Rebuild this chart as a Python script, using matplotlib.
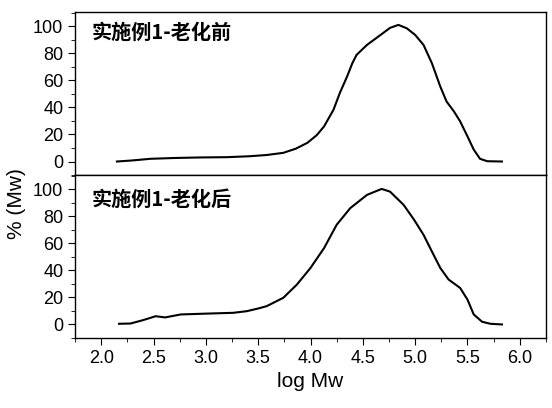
import matplotlib
matplotlib.use("Agg")
import matplotlib.pyplot as plt
from matplotlib.ticker import MultipleLocator

plt.rcParams['font.family'] = ['Liberation Sans', 'DejaVu Sans']

# before aging (top panel)
x_before = [2.15, 2.30, 2.47, 2.70, 2.95, 3.20, 3.42, 3.58, 3.74, 3.86, 3.97, 4.06, 4.13,
            4.22, 4.28, 4.35, 4.40, 4.44, 4.54, 4.67, 4.76, 4.84, 4.92, 5.00, 5.08,
            5.16, 5.24, 5.30, 5.37, 5.43, 5.50, 5.56, 5.62, 5.69, 5.83]
y_before = [0.0, 0.8, 2.0, 2.6, 3.0, 3.2, 3.9, 4.8, 6.4, 9.5, 13.8, 19.5, 26.0,
            38.3, 50.6, 62.9, 72.7, 78.8, 86.2, 93.6, 98.8, 101.0, 98.5, 93.6, 86.2,
            72.7, 55.5, 44.4, 37.1, 29.7, 18.6, 8.8, 2.0, 0.2, 0.0]

# after aging (bottom panel)
x_after = [2.17, 2.28, 2.40, 2.52, 2.61, 2.76, 3.04, 3.26, 3.39, 3.50, 3.58, 3.74, 3.87,
           4.00, 4.13, 4.25, 4.38, 4.54, 4.68, 4.76, 4.89, 4.99, 5.08, 5.16, 5.24,
           5.32, 5.43, 5.50, 5.56, 5.64, 5.72, 5.83]
y_after = [0.5, 0.7, 3.2, 6.1, 5.2, 7.4, 8.1, 8.6, 9.8, 11.8, 13.5, 19.7, 29.5,
           41.8, 56.5, 73.7, 86.0, 95.8, 100.2, 98.2, 88.4, 77.4, 66.3, 54.0, 41.8,
           33.2, 27.0, 18.4, 7.4, 2.0, 0.5, 0.0]

labels = ['实施例1-老化前', '实施例1-老化后']
xticks = [2.0, 2.5, 3.0, 3.5, 4.0, 4.5, 5.0, 5.5, 6.0]
yticks = [0, 20, 40, 60, 80, 100]

fig = plt.figure(figsize=(5.52, 4.08), dpi=100)
ax1 = fig.add_axes([0.136, 0.571, 0.853, 0.3995])
ax2 = fig.add_axes([0.136, 0.1716, 0.853, 0.3995])

cjk = ['Noto Sans CJK SC', 'DejaVu Sans']
for ax, xs, ys, lab, ty in [(ax1, x_before, y_before, labels[0], 0.877),
                            (ax2, x_after, y_after, labels[1], 0.853)]:
    ax.plot(xs, ys, color='black', lw=1.5, solid_joinstyle='round')
    ax.set_xlim(1.75, 6.25)
    ax.set_ylim(-10, 110.5)
    ax.set_yticks(yticks)
    ax.yaxis.set_minor_locator(MultipleLocator(10))
    ax.xaxis.set_minor_locator(MultipleLocator(0.25))
    ax.tick_params(axis='y', which='major', direction='out', length=5, labelsize=13)
    ax.tick_params(axis='y', which='minor', direction='out', length=3)
    ax.text(0.036, ty, lab, transform=ax.transAxes, family=cjk, fontsize=14.5,
            fontweight='bold', va='center', ha='left')
    for s in ax.spines.values():
        s.set_linewidth(1.0)

ax1.tick_params(axis='x', which='both', bottom=False, labelbottom=False)
ax2.set_xticks(xticks)
ax2.tick_params(axis='x', which='major', direction='out', length=5, labelsize=13)
ax2.tick_params(axis='x', which='minor', direction='out', length=3)
ax2.set_xlabel('log Mw', fontsize=15)
fig.text(0.03, 0.5, '% (Mw)', rotation=90, fontsize=15, va='center', ha='center')

fig.savefig('out.png', dpi=100)
